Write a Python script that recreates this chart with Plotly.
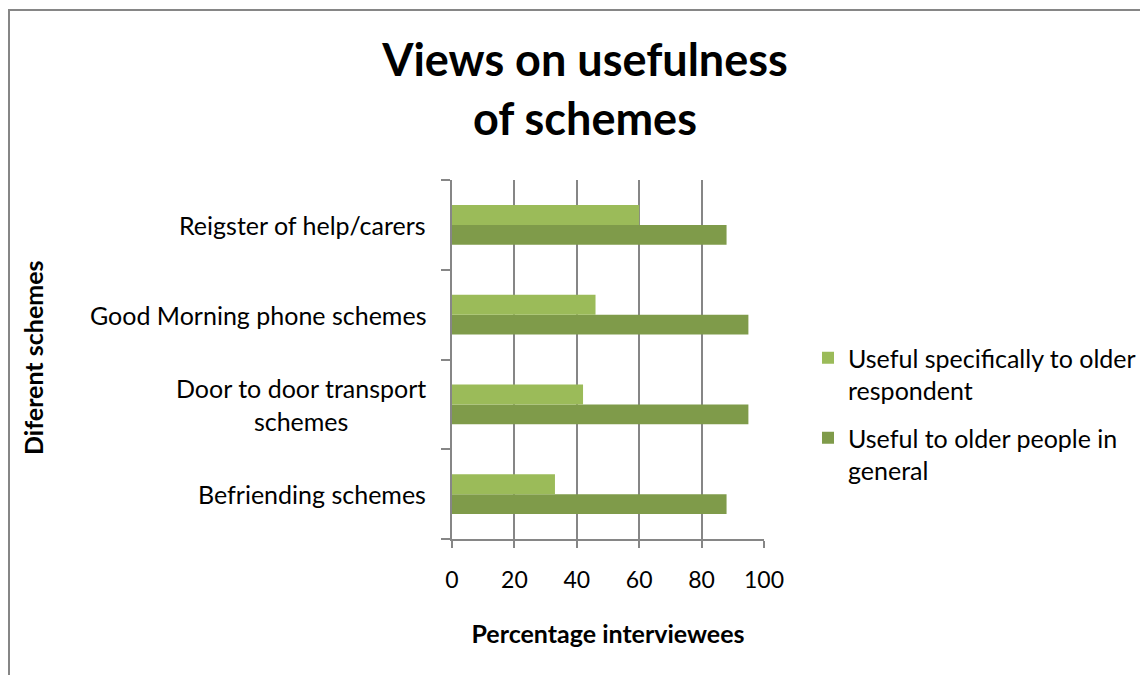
import plotly.graph_objects as go

categories = ["Befriending schemes", "Door to door transport schemes",
              "Good Morning phone schemes", "Reigster of help/carers"]
category_labels = ["Befriending schemes", "Door to door transport<br>schemes",
                   "Good Morning phone schemes", "Reigster of help/carers"]
specific_vals = [33, 42, 46, 60]
general_vals = [88, 95, 95, 88]
series_names = ["Useful specifically to older<br>respondent",
                "Useful to older people in<br>general"]
x_ticks = [0, 20, 40, 60, 80, 100]

FONT = "Lato"
W, H = 1148, 675
OFF = 8  # page body margin
L, R, T, B = 452 - OFF, 764 - OFF, 180 - OFF, 539 - OFF  # plot area (figure px)

fig = go.Figure()
fig.add_trace(go.Bar(y=categories, x=general_vals, orientation="h",
                     name=series_names[1], marker_color="#7F9B4A",
                     marker_line_width=0, legendgroup="b", legendrank=2))
fig.add_trace(go.Bar(y=categories, x=specific_vals, orientation="h",
                     name=series_names[0], marker_color="#9BBB59",
                     marker_line_width=0, legendgroup="a", legendrank=1))

pw, ph = R - L, B - T
def px_x(p):
    return (p - OFF - L) / pw
def px_y(p):
    return (B - (p - OFF)) / ph

annotations = []
for cat, lab in zip(categories, category_labels):
    annotations.append(dict(x=px_x(428), y=cat, xref="paper", yref="y",
                            text=lab, showarrow=False, xanchor="right",
                            yanchor="middle", align="center",
                            font=dict(family=FONT, size=25, color="#000000")))
annotations.append(dict(x=px_x(33), y=px_y(358), xref="paper", yref="paper",
                        text="<b>Diferent schemes</b>", textangle=-90,
                        showarrow=False, xanchor="center", yanchor="middle",
                        font=dict(family=FONT, size=25, color="#000000")))

fig.update_layout(
    width=W, height=H,
    margin=dict(l=L, r=W - R, t=T, b=H - B, pad=0),
    paper_bgcolor="white", plot_bgcolor="white",
    barmode="group", bargap=0.556, bargroupgap=0,
    title=dict(text="<b>Views on usefulness<br>of schemes</b>",
               x=(585 - OFF) / W, xref="container", xanchor="center",
               y=1 - 68 / H, yref="container", yanchor="middle",
               font=dict(family=FONT, size=45, color="#000000")),
    xaxis=dict(range=[0, 100], tickvals=x_ticks, ticktext=[str(v) for v in x_ticks],
               showgrid=True, gridcolor="#868686", gridwidth=1.5,
               showline=True, linecolor="#868686", linewidth=1.5,
               ticks="outside", ticklen=7, tickcolor="#868686", tickwidth=1.5,
               ticklabelstandoff=13, zeroline=False,
               tickfont=dict(family=FONT, size=23, color="#000000"),
               title=dict(text="<b>Percentage interviewees</b>", standoff=33,
                          font=dict(family=FONT, size=25, color="#000000"))),
    yaxis=dict(categoryorder="array", categoryarray=categories,
               showticklabels=False, showgrid=False,
               showline=True, linecolor="#868686", linewidth=1.5,
               ticks="outside", ticklen=9, tickcolor="#868686", tickwidth=1.5,
               tickson="boundaries", zeroline=False),
    legend=dict(x=px_x(808), y=px_y(335), xanchor="left", yanchor="top",
                traceorder="grouped", itemsizing="constant",
                tracegroupgap=12, valign="top",
                font=dict(family=FONT, size=25, color="#000000"),
                bgcolor="rgba(0,0,0,0)"),
    annotations=annotations,
    shapes=[dict(type="rect", xref="paper", yref="paper",
                 x0=px_x(9), x1=px_x(1200), y0=px_y(720), y1=px_y(10),
                 line=dict(color="#868686", width=2), fillcolor="rgba(0,0,0,0)",
                 layer="below")],
)

fig.write_html("out.html")
